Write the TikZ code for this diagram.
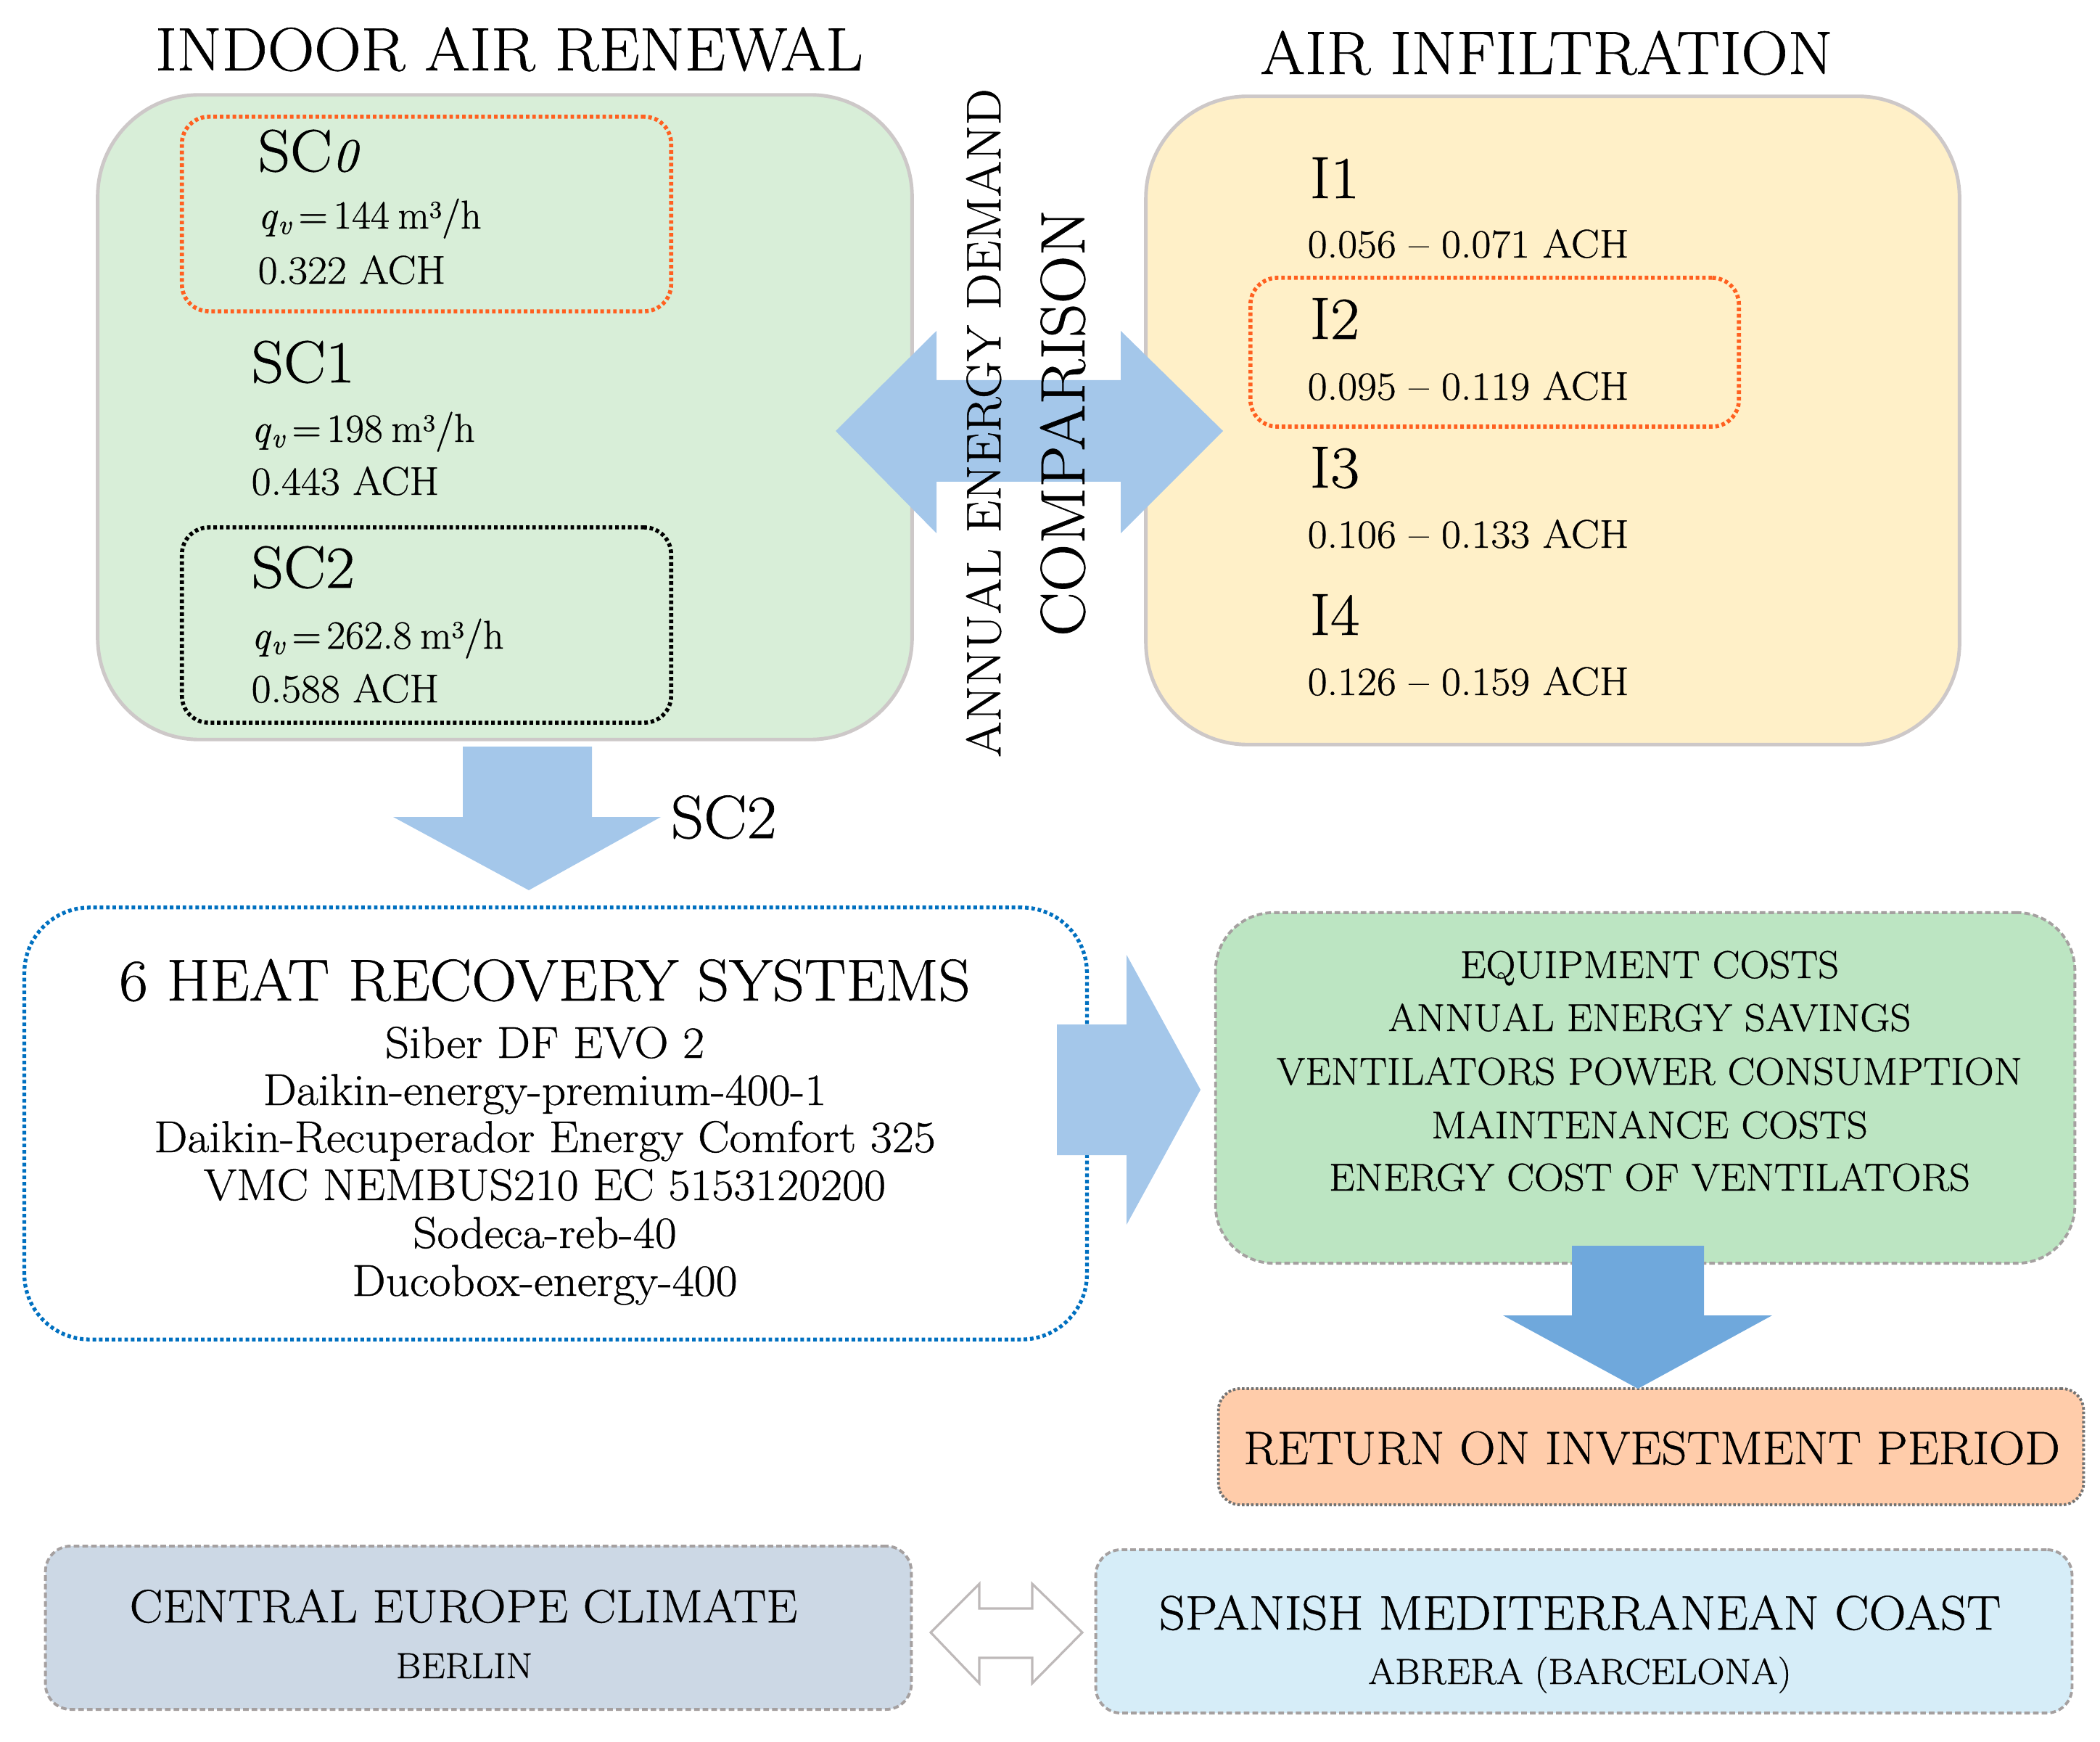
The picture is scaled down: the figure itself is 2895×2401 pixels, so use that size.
\documentclass[tikz,border=0pt]{standalone}
\usepackage{fontspec}
\setmainfont{Latin Modern Roman}[FakeStretch=1.06, FakeBold=0.7]
\definecolor{greenfill}{RGB}{216,238,216}
\definecolor{yellowfill}{RGB}{255,240,200}
\definecolor{boxgray}{RGB}{205,200,200}
\definecolor{orangedot}{RGB}{255,96,32}
\definecolor{bluedot}{RGB}{0,112,192}
\definecolor{arrowblue}{RGB}{164,199,234}
\definecolor{arrowdark}{RGB}{111,168,220}
\definecolor{patgreen}{RGB}{188,229,194}
\definecolor{salmon}{RGB}{255,204,170}
\definecolor{patblue}{RGB}{204,216,229}
\definecolor{lightblue}{RGB}{214,237,248}
\definecolor{dashgray}{RGB}{165,160,160}
\definecolor{hollowgray}{RGB}{190,185,185}
\newcommand\fTitle{\fontsize{24}{28}\selectfont}
\newcommand\fHead{\fontsize{23.3}{27}\selectfont}
\newcommand\fBody{\fontsize{15.7}{19}\selectfont}
\newcommand\fHeat{\fontsize{23.1}{27}\selectfont}
\newcommand\fModel{\fontsize{17.5}{20}\selectfont}
\newcommand\fCost{\fontsize{15.2}{18}\selectfont}
\newcommand\fRoi{\fontsize{18.4}{21}\selectfont}
\newcommand\fClimA{\fontsize{18.3}{21}\selectfont}
\newcommand\fClimB{\fontsize{19}{22}\selectfont}
\newcommand\fCity{\fontsize{14.2}{17}\selectfont}
\newcommand\fVa{\fontsize{19.1}{22}\selectfont}
\newcommand\fVb{\fontsize{24.6}{28}\selectfont}
\newcommand\fLab{\fontsize{23.9}{28}\selectfont}
\newcommand\flowline[1]{\scalebox{0.96}[1]{\textit{q}\textsubscript{\textit{v}}\hspace{0.14em}=\hspace{0.14em}#1\hspace{0.22em}m\raisebox{0.62ex}{\fontsize{9.5}{10}\selectfont 3}/h}}
\begin{document}
\begin{tikzpicture}[x=0.01cm,y=-0.01cm,
  txt/.style={inner sep=0pt, anchor=base west},
  ctxt/.style={inner sep=0pt, anchor=base},
  bigbox/.style={draw=boxgray, line width=1.4pt, rounded corners=1.4cm, inner sep=0pt},
  dotbox/.style={line width=1.6pt, dash pattern=on 1.4pt off 1.1pt, rounded corners=0.37cm, inner sep=0pt},
  dashbox/.style={draw=dashgray, line width=1.1pt, dash pattern=on 2.2pt off 1.2pt, inner sep=0pt},
  blockarrow/.style={fill=arrowblue, draw=none}]
\useasboundingbox (0,0) rectangle (2895,2401);

% main boxes
\node[bigbox, fill=greenfill, minimum width=11.22cm, minimum height=8.88cm] (renewal) at (696,575) {};
\node[bigbox, fill=yellowfill, minimum width=11.21cm, minimum height=8.93cm] (infil) at (2140.5,579.5) {};
\node[dotbox, draw=orangedot, minimum width=6.74cm, minimum height=2.68cm] (sc0box) at (588,295) {};
\node[dotbox, draw=black, minimum width=6.74cm, minimum height=2.69cm] (sc2box) at (588,861.5) {};
\node[dotbox, draw=orangedot, minimum width=6.73cm, minimum height=2.05cm] (i2box) at (2060.5,485.5) {};

\node[dotbox, draw=bluedot, line width=1.5pt, rounded corners=0.9cm, fill=white, minimum width=14.64cm, minimum height=5.95cm] (heat) at (766,1548.5) {};
\node[dashbox, fill=patgreen, rounded corners=0.8cm, minimum width=11.84cm, minimum height=4.83cm] (costs) at (2268,1499.5) {};
\node[draw=black!55, line width=1.1pt, dash pattern=on 1pt off 0.8pt, fill=salmon, rounded corners=0.3cm, inner sep=0pt, minimum width=11.92cm, minimum height=1.6cm] (roi) at (2276,1994) {};
\node[dashbox, fill=patblue, rounded corners=0.35cm, minimum width=11.93cm, minimum height=2.25cm] (central) at (659.5,2243.5) {};
\node[dashbox, fill=lightblue, rounded corners=0.35cm, minimum width=13.45cm, minimum height=2.25cm] (spain) at (2183.5,2248.5) {};

% titles
\node[ctxt, font=\fTitle] (t1) at (702,97) {INDOOR AIR RENEWAL};
\node[ctxt, font=\fTitle] (t2) at (2132,102) {AIR INFILTRATION};

% left texts
\node[txt, font=\fHead] (sc0) at (355,236) {SC{\fontsize{18.5}{18}\selectfont\itshape 0}};
\node[txt, font=\fBody] (sc0q) at (355,315) {\flowline{144}};
\node[txt, font=\fBody] (sc0a) at (355,391) {0.322 ACH};
\node[txt, font=\fHead] (sc1) at (346,527) {SC1};
\node[txt, font=\fBody] (sc1q) at (346,609) {\flowline{198}};
\node[txt, font=\fBody] (sc1a) at (346,682) {0.443 ACH};
\node[txt, font=\fHead] (sc2) at (346,810) {SC2};
\node[txt, font=\fBody] (sc2q) at (346,894) {\flowline{262.8}};
\node[txt, font=\fBody] (sc2a) at (346,968) {0.588 ACH};

% right texts
\node[txt, font=\fHead] (i1) at (1805,273) {I1};
\node[txt, font=\fBody] (i1a) at (1802,355) {0.056 -- 0.071 ACH};
\node[txt, font=\fHead] (i2) at (1805,467) {I2};
\node[txt, font=\fBody] (i2a) at (1802,551) {0.095 -- 0.119 ACH};
\node[txt, font=\fHead] (i3) at (1805,672) {I3};
\node[txt, font=\fBody] (i3a) at (1802,755) {0.106 -- 0.133 ACH};
\node[txt, font=\fHead] (i4) at (1805,875) {I4};
\node[txt, font=\fBody] (i4a) at (1802,958) {0.126 -- 0.159 ACH};

% block arrows
\fill[blockarrow] (1152,594) -- (1291,456) -- (1291,524) -- (1545,524) -- (1545,456) -- (1686,594)
  -- (1545,735) -- (1545,664) -- (1291,664) -- (1291,735) -- cycle;
\fill[blockarrow] (638,1029) -- (816,1029) -- (816,1126) -- (911,1126) -- (729,1227) -- (542,1126) -- (638,1126) -- cycle;
\fill[blockarrow] (1457,1412) -- (1553,1412) -- (1553,1316) -- (1655,1502) -- (1553,1688) -- (1553,1592) -- (1457,1592) -- cycle;
\fill[fill=arrowdark] (2167,1717) -- (2349,1717) -- (2349,1813) -- (2443,1813) -- (2258,1914) -- (2072,1813) -- (2167,1813) -- cycle;
\draw[fill=white, draw=hollowgray, line width=0.9pt] (1283,2250) -- (1350,2183) -- (1350,2217) -- (1423,2217) -- (1423,2183)
  -- (1492,2250) -- (1423,2320) -- (1423,2285) -- (1350,2285) -- (1350,2320) -- cycle;

% vertical texts
\node[inner sep=0pt, rotate=90, font=\fVa] (annual) at (1356,583) {ANNUAL ENERGY DEMAND};
\node[inner sep=0pt, rotate=90, font=\fVb] (compar) at (1465,583) {COMPARISON};

\node[txt, font=\fLab] (sc2lab) at (924,1155) {SC2};

% heat recovery texts
\node[ctxt, font=\fHeat] (heatT) at (751,1379) {6 HEAT RECOVERY SYSTEMS};
\node[ctxt, font=\fModel] (m1) at (751,1458) {Siber DF EVO 2};
\node[ctxt, font=\fModel] (m2) at (751,1523) {Daikin-energy-premium-400-1};
\node[ctxt, font=\fModel] (m3) at (751,1588) {Daikin-Recuperador Energy Comfort 325};
\node[ctxt, font=\fModel] (m4) at (751,1654) {VMC NEMBUS210 EC 5153120200};
\node[ctxt, font=\fModel] (m5) at (751,1720) {Sodeca-reb-40};
\node[ctxt, font=\fModel] (m6) at (751,1786) {Ducobox-energy-400};

% cost texts
\node[ctxt, font=\fCost] (c1) at (2274,1348) {EQUIPMENT COSTS};
\node[ctxt, font=\fCost] (c2) at (2274,1421) {ANNUAL ENERGY SAVINGS};
\node[ctxt, font=\fCost] (c3) at (2274,1495) {VENTILATORS POWER CONSUMPTION};
\node[ctxt, font=\fCost] (c4) at (2274,1569) {MAINTENANCE COSTS};
\node[ctxt, font=\fCost] (c5) at (2274,1641) {ENERGY COST OF VENTILATORS};

\node[ctxt, font=\fRoi] (roiT) at (2277,2018) {RETURN ON INVESTMENT PERIOD};

\node[ctxt, font=\fClimA] (centT) at (639,2236) {CENTRAL EUROPE CLIMATE};
\node[ctxt, font=\fCity] (berlin) at (640,2313) {BERLIN};
\node[ctxt, font=\fClimB] (spT) at (2178,2246) {SPANISH MEDITERRANEAN COAST};
\node[ctxt, font=\fCity] (abrera) at (2178,2321) {ABRERA (BARCELONA)};
\end{tikzpicture}
\end{document}
